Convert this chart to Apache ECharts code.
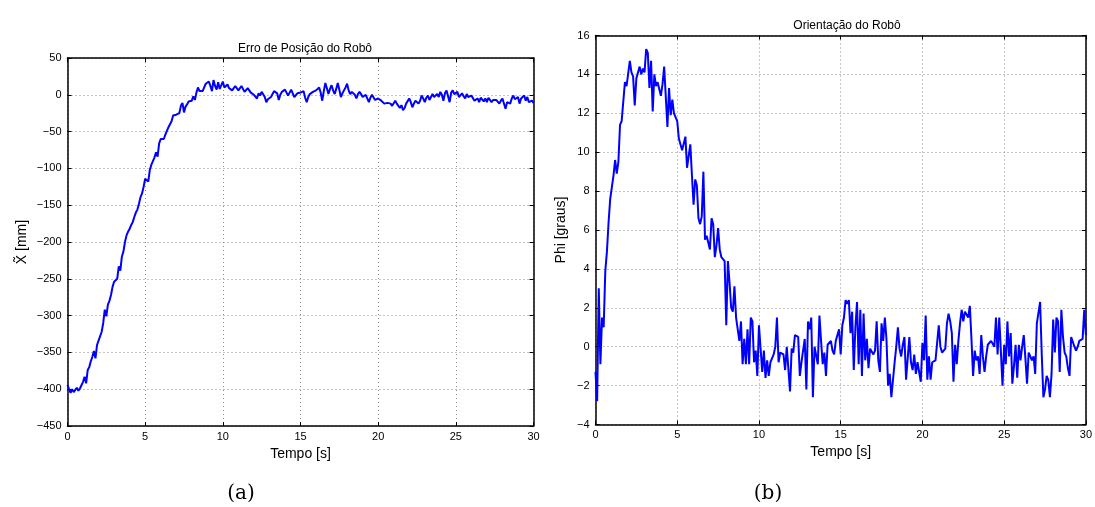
<!DOCTYPE html>
<html>
<head>
<meta charset="utf-8">
<script src="https://cdn.jsdelivr.net/npm/echarts@6/dist/echarts.min.js"></script>
<style>
html,body{margin:0;padding:0;background:#fff;}
#chart{width:1095px;height:507px;}
</style>
</head>
<body>
<div id="chart"></div>
<script>
// ---- data ----
var sampleStep = 0.1; // seconds between samples
var xTicks = [0, 5, 10, 15, 20, 25, 30];
var posTicks = [50, 0, -50, -100, -150, -200, -250, -300, -350, -400, -450];
var phiTicks = [16, 14, 12, 10, 8, 6, 4, 2, 0, -2, -4];

// Erro de posição X~ [mm], one value per 0.1 s
var positionError = [
 -394,-400,-405,-400,-404,-401,-398,-402,-399,-400,
 -390,-383,-392,-374,-370,-362,-356,-348,-358,-340,
 -334,-333,-322,-310,-292,-301,-285,-280,-272,-261,
 -254,-256,-250,-233,-239,-220,-213,-200,-191,-186,
 -182,-177,-173,-166,-160,-156,-148,-139,-134,-125,
 -114,-112,-118,-102,-95,-90,-85,-78,-84,-66,
 -60,-58,-60,-54,-49,-44,-40,-36,-28,-27,
 -27,-26,-25,-15,-11,-24,-16,-13,-9,-8,
 -8,-2,-7,3,10,5,6,5,10,15,
 16,18,12,5,20,12,7,17,8,7,
 18,10,8,14,9,11,6,7,12,11,
 6,5,12,11,4,5,9,9,3,2,
 0,-2,-5,2,-1,4,4,-3,-10,-6,
 -8,-3,1,5,7,2,-7,0,4,5,
 7,3,-1,3,7,2,-3,-1,2,1,
 3,5,5,-4,-10,-3,1,3,4,2,
 6,8,10,3,-8,5,16,9,1,8,
 13,6,1,8,16,7,-3,2,6,10,
 15,6,1,4,6,0,-5,1,4,1,
 -3,-1,0,-5,-10,-4,0,-2,-7,-5,
 -5,-6,-8,-10,-12,-13,-11,-10,-12,-15,
 -13,-8,-12,-15,-18,-14,-21,-18,-12,-10,
 -5,-10,-17,-12,-8,-10,-12,-8,-1,-5,
 -10,-4,-1,-7,-3,1,-3,-1,1,-3,
 4,0,-8,2,6,-2,-10,3,6,1,
 -1,4,-3,-5,2,-2,-5,1,-3,-5,
 -1,-3,-8,-6,-5,-10,-4,-3,-9,-5,
 -10,-4,-3,-10,-7,-5,-7,-8,-12,-8,
 -5,-7,-19,-10,-9,-12,-5,-1,-6,-8,
 -3,-12,-5,-6,-1,-8,-3,-10,-12,-8,
 -11
];

// Orientação Phi [graus], one value per 0.1 s
var phiDegrees = [
 -1.3,-2.8,3.0,-0.9,1.5,1.0,3.9,4.9,6.4,7.6,
 7.7,8.8,9.6,8.9,9.5,11.4,11.6,11.7,13.6,13.4,
 13.5,14.7,14.1,13.9,12.4,13.8,13.8,14.4,14.0,14.3,
 14.1,15.3,15.1,13.3,14.7,12.1,14.0,13.4,13.6,13.6,
 12.9,13.5,14.4,14.5,11.3,13.3,11.9,12.7,12.0,12.0,
 11.6,10.7,10.4,10.1,10.0,10.8,9.2,9.2,10.4,8.8,
 7.3,8.6,8.3,6.6,6.3,6.7,9.0,5.5,5.7,5.6,
 5.0,6.6,6.3,4.6,5.2,6.1,5.0,4.6,4.5,4.4,
 1.1,4.4,3.3,2.0,1.8,3.1,1.5,1.6,0.3,1.3,
 -0.9,0.4,-0.9,0.9,-0.9,1.5,1.3,-0.8,-0.2,-1.5,
 1.1,1.1,-1.3,-0.2,-1.6,-0.7,-1.5,-0.8,-0.7,-0.4,
 0.0,1.5,-0.8,-0.3,-0.3,-0.4,-1.2,0.0,0.1,-2.3,
 -0.1,-0.3,0.6,0.6,0.5,-1.5,-0.8,-0.8,0.4,-2.2,
 1.3,0.9,1.5,-2.6,0.0,-0.1,-0.9,1.6,0.3,-0.9,
 -0.3,-1.5,0.1,0.1,0.3,-0.2,-0.4,0.3,0.3,0.9,
 -0.4,1.1,1.5,2.4,2.2,2.4,0.7,1.8,-1.2,1.0,
 2.3,-0.9,1.9,-1.5,1.7,-0.7,0.4,-1.1,-0.1,0.0,
 -0.4,-0.2,1.3,-0.7,-1.3,1.2,0.3,1.5,0.4,-2.0,
 -1.4,-2.6,-1.7,-0.8,0.0,1.0,-0.1,-0.5,0.1,0.5,
 -1.7,-1.6,0.5,-0.8,-1.2,-0.4,-1.4,-0.8,-0.7,-1.8,
 0.2,-0.7,1.6,-1.7,-0.5,-1.7,-0.8,-0.8,-0.7,0.2,
 1.1,0.0,-0.3,-0.2,-0.1,1.2,1.7,1.3,0.7,-1.8,
 0.1,-0.9,0.3,1.2,1.9,1.3,1.8,1.7,1.5,2.1,
 0.4,-1.5,-0.2,-0.7,-0.5,-1.4,0.6,-0.5,-1.3,-0.5,
 0.1,0.2,0.3,0.3,0.0,1.5,-0.4,1.5,1.5,-2.0,
 0.1,-0.9,1.3,-0.5,0.7,-1.9,-1.0,0.1,-1.6,0.1,
 -0.7,0.0,0.6,-0.6,-1.9,-0.3,-0.5,-0.7,-0.5,-1.4,
 1.2,1.3,2.3,-0.4,-2.6,-2.2,-1.5,-1.7,-2.6,-1.4,
 1.4,-0.3,1.5,1.3,-1.3,1.9,0.5,-0.3,-0.5,-1.1,
 -1.5,0.5,0.4,0.0,-0.2,0.0,0.3,0.3,0.4,1.9,
 0.6
];

function pairs(vals) {
  var out = [];
  for (var i = 0; i < vals.length; i++) {
    out.push([Math.round(i * sampleStep * 10) / 10, vals[i]]);
  }
  return out;
}

// ---- chart ----
var FONT = 'Liberation Sans, Arial, sans-serif';
var minusFmt = function (v) { return String(v).replace('-', '\u2212'); };

function xAxes(gi) {
  return [{
    gridIndex: gi, type: 'value', min: 0, max: 30, interval: 5,
    name: 'Tempo [s]', nameLocation: 'middle', nameGap: 16,
    nameTextStyle: { fontFamily: FONT, fontSize: 14, color: '#000', verticalAlign: 'top' },
    axisLine: { show: true, onZero: false, lineStyle: { color: '#000', width: 1.5 } },
    axisTick: { show: true, inside: true, length: 4, lineStyle: { color: '#000' } },
    axisLabel: { fontFamily: FONT, fontSize: 11, color: '#000', margin: 5, formatter: minusFmt },
    splitLine: { show: true, lineStyle: { color: '#8a8a8a', type: [1, 3], width: 1 } }
  }, {
    gridIndex: gi, type: 'value', min: 0, max: 30, interval: 5, position: 'top',
    axisLine: { show: true, onZero: false, lineStyle: { color: '#000', width: 1.5 } },
    axisTick: { show: true, inside: true, length: 4, lineStyle: { color: '#000' } },
    axisLabel: { show: false }, splitLine: { show: false }
  }];
}

function yAxes(gi, min, max, interval, name, gap) {
  return [{
    gridIndex: gi, type: 'value', min: min, max: max, interval: interval,
    name: name, nameLocation: 'middle', nameGap: gap, nameRotate: 90,
    nameTextStyle: { fontFamily: FONT, fontSize: 14, color: '#000' },
    axisLine: { show: true, onZero: false, lineStyle: { color: '#000', width: 1.5 } },
    axisTick: { show: true, inside: true, length: 4, lineStyle: { color: '#000' } },
    axisLabel: { fontFamily: FONT, fontSize: 11, color: '#000', margin: 6, formatter: minusFmt },
    splitLine: { show: true, lineStyle: { color: '#8a8a8a', type: [1, 3], width: 1 } }
  }, {
    gridIndex: gi, type: 'value', min: min, max: max, interval: interval, position: 'right',
    axisLine: { show: true, onZero: false, lineStyle: { color: '#000', width: 1.5 } },
    axisTick: { show: true, inside: true, length: 4, lineStyle: { color: '#000' } },
    axisLabel: { show: false }, splitLine: { show: false }
  }];
}

var chart = echarts.init(document.getElementById('chart'), null, { renderer: 'canvas' });
chart.setOption({
  backgroundColor: '#fff',
  animation: false,
  title: [
    { text: 'Erro de Posição do Robô', left: 300, top: 38, textAlign: 'center',
      textStyle: { fontFamily: FONT, fontSize: 12, fontWeight: 'normal', color: '#000' } },
    { text: 'Orientação do Robô', left: 842, top: 15, textAlign: 'center',
      textStyle: { fontFamily: FONT, fontSize: 12, fontWeight: 'normal', color: '#000' } },
    { text: '(a)', left: 236, top: 479, textAlign: 'center',
      textStyle: { fontFamily: 'DejaVu Serif, Liberation Serif, serif', fontSize: 20, fontWeight: 'normal', color: '#000' } },
    { text: '(b)', left: 763, top: 479, textAlign: 'center',
      textStyle: { fontFamily: 'DejaVu Serif, Liberation Serif, serif', fontSize: 20, fontWeight: 'normal', color: '#000' } }
  ],
  grid: [
    { left: 67.5, top: 58, width: 466, height: 368, show: false },
    { left: 595.5, top: 35.5, width: 492.5, height: 389, show: false }
  ],
  xAxis: xAxes(0).concat(xAxes(1)),
  yAxis: yAxes(0, -450, 50, 50, 'X\u0303 [mm]', 38).concat(yAxes(1, -4, 16, 2, 'Phi [graus]', 27)),
  series: [
    { type: 'line', xAxisIndex: 0, yAxisIndex: 0, data: pairs(positionError),
      showSymbol: false, symbol: 'none', lineStyle: { color: '#0000ff', width: 2 } },
    { type: 'line', xAxisIndex: 2, yAxisIndex: 2, data: pairs(phiDegrees),
      showSymbol: false, symbol: 'none', lineStyle: { color: '#0000ff', width: 2 } }
  ]
});
</script>
</body>
</html>
